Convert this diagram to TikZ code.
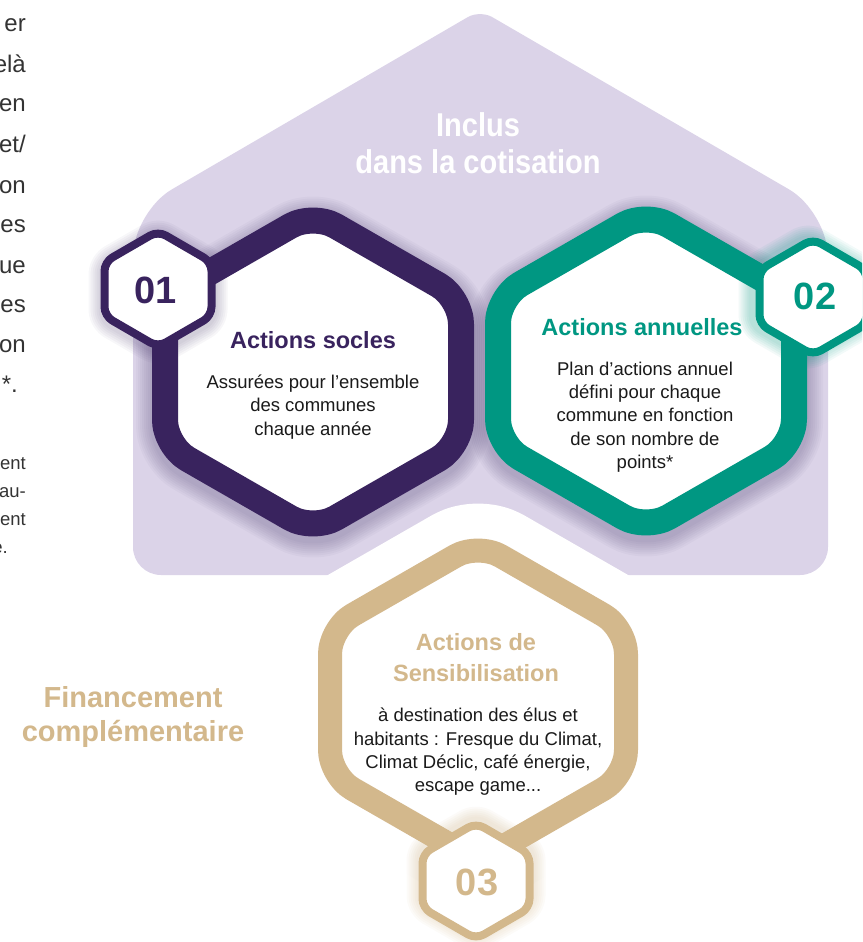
\documentclass[tikz,border=0pt]{standalone}
\usepackage{fontspec}
\setmainfont{Liberation Sans}
\newfontfamily\condfont[FakeStretch=0.88]{Liberation Sans}
\definecolor{bgpurple}{HTML}{DBD3E8}
\definecolor{dkpurple}{HTML}{39235E}
\definecolor{teal1}{HTML}{009782}
\definecolor{gold1}{HTML}{D3B88C}
\definecolor{txt}{HTML}{1A1A1A}
\definecolor{fragtxt}{HTML}{333333}
\definecolor{shadowcol}{HTML}{3A2A60}
\newcommand{\HexPath}[5]{(#1,#2-#4) -- (#1+#3,#2-#5) -- (#1+#3,#2+#5) -- (#1,#2+#4) -- (#1-#3,#2+#5) -- (#1-#3,#2-#5) -- cycle}
\tikzset{
  bighex/.style={line width=26pt, rounded corners=26pt, fill=white, line join=round},
  smallhex/.style={line width=8pt, rounded corners=9pt, fill=white, line join=round},
  fragA/.style={font=\fontsize{24}{28}\selectfont, text=fragtxt, anchor=base east, inner sep=0pt},
  fragB/.style={font=\fontsize{18.5}{20}\selectfont, text=fragtxt, anchor=base east, inner sep=0pt},
  htitle/.style={font=\fontsize{23.5}{31}\selectfont\bfseries, align=center, inner sep=0pt},
  hbody/.style={font=\fontsize{18.5}{23.3}\selectfont, text=txt, align=center, inner sep=0pt},
  hnum/.style={font=\fontsize{38}{40}\selectfont\bfseries, inner sep=0pt}
}
\begin{document}
\begin{tikzpicture}[x=1pt, y=-1pt]
\useasboundingbox (0,0) rectangle (862,942);
\clip (0,0) rectangle (862,942);

% left cut-off text fragments
\node[fragA] (f1) at (26,32) {er};
\node[fragA] (f2) at (26,72) {elà};
\node[fragA] (f3) at (26,111) {en};
\node[fragA] (f4) at (26,152) {et/};
\node[fragA] (f5) at (26,193) {on};
\node[fragA] (f6) at (26,232) {es};
\node[fragA] (f7) at (26,273) {ue};
\node[fragA] (f8) at (26,312) {es};
\node[fragA] (f9) at (26,352) {on};
\node[fragA] (f10) at (18,392) {*.};
\node[fragB] (g1) at (26,469) {ent};
\node[fragB] (g2) at (26,497) {au-};
\node[fragB] (g3) at (26,525) {ent};
\node[fragB] (g4) at (8,553) {e.};

% purple background
\fill[bgpurple] (480,575) [rounded corners=28pt] -- (133,575) [rounded corners=45pt] -- (133,212) [rounded corners=14pt] -- (480,10) [rounded corners=45pt] -- (828,212) [rounded corners=28pt] -- (828,575) -- cycle;

% white notch around the gold hexagon
\draw[white, fill=white, line width=94pt, rounded corners=26pt, line join=round] \HexPath{478}{702}{148}{159}{74};

% shadows of the big hexagons
\foreach \k in {1,...,8}{
  \pgfmathsetmacro{\lw}{26+4*\k}
  \draw[shadowcol, opacity=0.035, line width=\lw pt, rounded corners=26pt, line join=round, yshift=-5pt] \HexPath{313}{372}{148}{159}{74};
  \draw[shadowcol, opacity=0.035, line width=\lw pt, rounded corners=26pt, line join=round, yshift=-5pt] \HexPath{646}{371}{148}{159}{74};
}

% big hexagons 1 and 2
\draw[bighex, draw=dkpurple] \HexPath{313}{372}{148}{159}{74};
\draw[bighex, draw=teal1] \HexPath{646}{371}{148}{159}{74};

% small hexagon shadows / glows
\foreach \k in {1,...,6}{
  \pgfmathsetmacro{\lw}{8+4*\k}
  \draw[shadowcol, opacity=0.04, line width=\lw pt, rounded corners=9pt, line join=round, yshift=-3pt] \HexPath{158}{289}{53.5}{58}{27};
  \draw[teal1, opacity=0.05, line width=\lw pt, rounded corners=9pt, line join=round, xshift=-5pt] \HexPath{813}{297}{53.5}{58}{27};
}

% small hexagons 01, 02
\draw[smallhex, draw=dkpurple] \HexPath{158}{289}{53.5}{58}{27};
\draw[smallhex, draw=teal1] \HexPath{813}{297}{53.5}{58}{27};

% gold hexagon
\draw[bighex, line width=24pt, draw=gold1] \HexPath{478}{702}{148}{159}{74};

% glow of hexagon 03
\foreach \k in {1,...,6}{
  \pgfmathsetmacro{\lw}{8+4*\k}
  \draw[gold1, opacity=0.06, line width=\lw pt, rounded corners=9pt, line join=round, yshift=3pt] \HexPath{476}{881}{53.5}{58}{27};
}
\draw[smallhex, draw=gold1] \HexPath{476}{881}{53.5}{58}{27};

% header
\node[font=\condfont\fontsize{33}{37}\selectfont\bfseries, text=white, align=center, inner sep=0pt] (head) at (478,143) {Inclus\\dans la cotisation};

% numbers
\node[hnum, text=dkpurple] (n1) at (156,290) {01};
\node[hnum, text=teal1] (n2) at (815,296) {02};
\node[hnum, text=gold1] (n3) at (477,882) {03};

% hexagon 1 texts
\node[htitle, text=dkpurple] (t1) at (313,340) {Actions socles};
\node[hbody] (b1) at (313,407) {Assurées pour l’ensemble\\des communes\\chaque année};

% hexagon 2 texts
\node[htitle, text=teal1] (t2) at (642,327) {Actions annuelles};
\node[hbody] (b2) at (645,417) {Plan d’actions annuel\\défini pour chaque\\commune en fonction\\de son nombre de\\points*};

% hexagon 3 texts
\node[htitle, text=gold1] (t3) at (476,658) {Actions de\\Sensibilisation};
\node[hbody] (b3) at (478,752) {à destination des élus et\\habitants : Fresque du Climat,\\Climat Déclic, café énergie,\\escape game...};

% side label
\node[font=\fontsize{29}{34}\selectfont\bfseries, text=gold1, align=center, inner sep=0pt] (fin) at (133,717) {Financement\\complémentaire};
\end{tikzpicture}
\end{document}
